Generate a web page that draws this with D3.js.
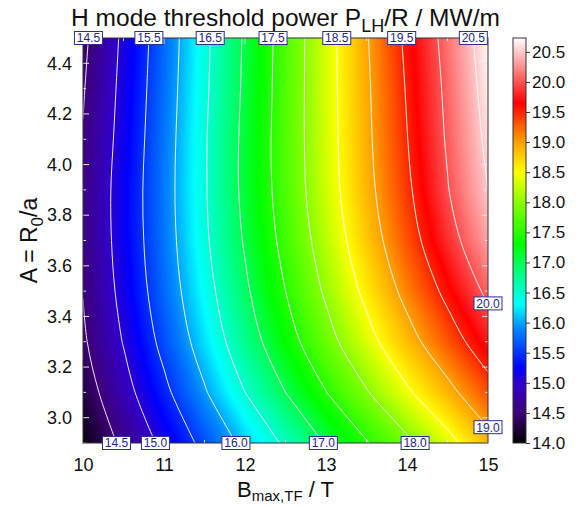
<!DOCTYPE html>
<html>
<head>
<meta charset="utf-8">
<script src="https://cdn.jsdelivr.net/npm/d3@7"></script>
<style>
  body { margin: 0; background: #fff; }
  text { font-family: "Liberation Sans", Arial, sans-serif; }
</style>
</head>
<body>
<script>
// grid: columns = B_max,TF (T), rows = A (bottom to top)
var bValues = [10, 10.5, 11, 11.5, 12, 12.5, 13, 13.5, 14, 14.5, 15];
var aValues = [2.9, 3.1, 3.3, 3.5, 3.7, 3.9, 4.1, 4.3, 4.5];
var plhRows = [
  [14.07, 14.59, 15.11, 15.62, 16.11, 16.57, 17.03, 17.47, 17.91, 18.36, 18.85],
  [14.28, 14.84, 15.40, 15.96, 16.50, 17.00, 17.49, 17.97, 18.44, 18.88, 19.33],
  [14.44, 15.02, 15.62, 16.20, 16.77, 17.31, 17.84, 18.35, 18.84, 19.30, 19.75],
  [14.51, 15.13, 15.75, 16.34, 16.93, 17.50, 18.06, 18.60, 19.12, 19.60, 20.08],
  [14.55, 15.19, 15.81, 16.43, 17.04, 17.63, 18.21, 18.78, 19.32, 19.84, 20.34],
  [14.56, 15.20, 15.83, 16.46, 17.10, 17.70, 18.30, 18.88, 19.43, 19.98, 20.50],
  [14.52, 15.16, 15.81, 16.46, 17.10, 17.72, 18.32, 18.92, 19.49, 20.04, 20.58],
  [14.47, 15.12, 15.78, 16.43, 17.07, 17.71, 18.33, 18.94, 19.53, 20.08, 20.65],
  [14.41, 15.08, 15.75, 16.41, 17.05, 17.70, 18.33, 18.97, 19.58, 20.13, 20.71]
];
var contourLevels = [14.5, 15, 15.5, 16, 16.5, 17, 17.5, 18, 18.5, 19, 19.5, 20, 20.5];
var topLabels = [14.5, 15.5, 16.5, 17.5, 18.5, 19.5, 20.5];
var bottomLabels = [14.5, 15, 16, 17, 18];
var rightLabels = [19, 20];
var xTicks = [10, 11, 12, 13, 14, 15];
var xMinor = [10.5, 11.5, 12.5, 13.5, 14.5];
var yTicks = [3.0, 3.2, 3.4, 3.6, 3.8, 4.0, 4.2, 4.4];
var yMinor = [2.9, 3.1, 3.3, 3.5, 3.7, 3.9, 4.1, 4.3, 4.5];
var cbTicks = [14.0, 14.5, 15.0, 15.5, 16.0, 16.5, 17.0, 17.5, 18.0, 18.5, 19.0, 19.5, 20.0, 20.5];
var cbRange = [14.0, 20.73];

// colour table (value -> colour)
var colorStops = [14.0, 14.5, 14.95, 15.25, 15.9, 16.3, 16.8, 17.3, 18.0, 18.5, 19.0, 19.65, 20.73];
var colorList = ["#000000", "#3e0078", "#3300c8", "#0000ff", "#0088ff", "#00ffff", "#00ff88", "#00ff00",
                 "#88ff00", "#ffff00", "#ffa000", "#ff0000", "#ffffff"];

(function() {
var W = 577, H = 507;
var pL = 83, pR = 488, pT = 38, pB = 443;

var svg = d3.select("body").append("svg").attr("width", W).attr("height", H);

var x = d3.scaleLinear().domain([10, 15]).range([pL, pR]);
var y = d3.scaleLinear().domain([2.9, 4.5]).range([pB, pT]);
var color = d3.scaleLinear().domain(colorStops).range(colorList).clamp(true);

var nx = bValues.length, ny = aValues.length;
var values = [];
plhRows.forEach(function(r) { r.forEach(function(v) { values.push(v); }); });

// grid coords (sample i sits at i + 0.5) -> pixels
var gx = d3.scaleLinear().domain([0.5, nx - 0.5]).range([x(bValues[0]), x(bValues[nx - 1])]);
var gy = d3.scaleLinear().domain([0.5, ny - 0.5]).range([y(aValues[0]), y(aValues[ny - 1])]);

function ringPath(ring) {
  return "M" + ring.map(function(p) { return gx(p[0]).toFixed(2) + "," + gy(p[1]).toFixed(2); }).join("L") + "Z";
}
function multiPath(c) {
  return c.coordinates.map(function(poly) { return poly.map(ringPath).join(""); }).join("");
}

svg.append("clipPath").attr("id", "plotclip")
  .append("rect").attr("x", pL).attr("y", pT).attr("width", pR - pL).attr("height", pB - pT);

var plot = svg.append("g").attr("clip-path", "url(#plotclip)");

// filled field
var step = 0.02;
var fillThresholds = d3.range(13.9, 20.8, step);
var contours = d3.contours().size([nx, ny]).smooth(true);
plot.append("g")
  .selectAll("path")
  .data(contours.thresholds(fillThresholds)(values))
  .join("path")
  .attr("d", multiPath)
  .attr("fill-rule", "evenodd")
  .attr("fill", function(d) { return color(d.value + step / 2); })
  .attr("stroke", function(d) { return color(d.value + step / 2); })
  .attr("stroke-width", 0.3);

// contour lines (only the parts inside the grid)
function insideGrid(p) { return p[0] > 0 && p[0] < nx && p[1] > 0 && p[1] < ny; }
function runsOf(ring) {
  var pts = ring.slice(0, -1);
  var start = pts.findIndex(function(p) { return !insideGrid(p); });
  if (start < 0) return [pts.concat([pts[0]])];
  var runs = [], cur = [];
  for (var k = 1; k <= pts.length; k++) {
    var p = pts[(start + k) % pts.length];
    if (insideGrid(p)) cur.push(p);
    else { if (cur.length > 1) runs.push(cur); cur = []; }
  }
  return runs;
}
var lineGen = d3.line()
  .x(function(p) { return gx(p[0]); })
  .y(function(p) { return gy(p[1]); })
  .curve(d3.curveCatmullRom.alpha(0.5));

var lineRuns = [];
contours.thresholds(contourLevels)(values).forEach(function(c) {
  c.coordinates.forEach(function(poly) {
    poly.forEach(function(ring) {
      runsOf(ring).forEach(function(r) { lineRuns.push(r); });
    });
  });
});
plot.append("g")
  .selectAll("path")
  .data(lineRuns)
  .join("path")
  .attr("d", lineGen)
  .attr("fill", "none")
  .attr("stroke", "#ffffff")
  .attr("stroke-opacity", 0.9)
  .attr("stroke-width", 1);

// ticks (inside, on all four sides)
var ticks = svg.append("g").attr("stroke", "#e8e8e8").attr("stroke-width", 1);
function hTicks(vals, len) {
  vals.forEach(function(v) {
    ticks.append("line").attr("x1", x(v)).attr("x2", x(v)).attr("y1", pB).attr("y2", pB - len);
    ticks.append("line").attr("x1", x(v)).attr("x2", x(v)).attr("y1", pT).attr("y2", pT + len);
  });
}
function vTicks(vals, len) {
  vals.forEach(function(v) {
    ticks.append("line").attr("y1", y(v)).attr("y2", y(v)).attr("x1", pL).attr("x2", pL + len);
    ticks.append("line").attr("y1", y(v)).attr("y2", y(v)).attr("x1", pR).attr("x2", pR - len);
  });
}
hTicks(xTicks.slice(1, -1), 6);
hTicks(xMinor, 3);
vTicks(yTicks, 6);
vTicks(yMinor, 3);

// frame
svg.append("rect")
  .attr("x", pL).attr("y", pT).attr("width", pR - pL).attr("height", pB - pT)
  .attr("fill", "none").attr("stroke", "#333").attr("stroke-width", 1);

// axis tick labels
var xAxis = svg.append("g").attr("transform", "translate(0," + pB + ")")
  .call(d3.axisBottom(x).tickValues(xTicks).tickSize(0).tickPadding(15).tickFormat(d3.format("d")));
var yAxis = svg.append("g").attr("transform", "translate(" + pL + ",0)")
  .call(d3.axisLeft(y).tickValues(yTicks).tickSize(0).tickPadding(11).tickFormat(d3.format(".1f")));
[xAxis, yAxis].forEach(function(g) {
  g.select(".domain").remove();
  g.selectAll("text").attr("font-size", 18).attr("fill", "#111")
    .style("font-family", "'Liberation Sans', Arial, sans-serif");
});

// contour labels at the plot edges
function rowCrossing(row, level) {
  for (var i = 0; i < row.length - 1; i++) {
    if ((row[i] - level) * (row[i + 1] - level) <= 0 && row[i] !== row[i + 1]) {
      return bValues[i] + (level - row[i]) / (row[i + 1] - row[i]) * (bValues[i + 1] - bValues[i]);
    }
  }
  return null;
}
function colCrossing(col, level) {
  var c = plhRows.map(function(r) { return r[col]; });
  for (var j = 0; j < c.length - 1; j++) {
    if ((c[j] - level) * (c[j + 1] - level) <= 0 && c[j] !== c[j + 1]) {
      return aValues[j] + (level - c[j]) / (c[j + 1] - c[j]) * (aValues[j + 1] - aValues[j]);
    }
  }
  return null;
}
var labelData = [];
topLabels.forEach(function(l) {
  var b = rowCrossing(plhRows[ny - 1], l);
  if (b !== null) labelData.push({ v: l, px: x(b), py: pT });
});
bottomLabels.forEach(function(l) {
  var b = rowCrossing(plhRows[0], l);
  if (b !== null) labelData.push({ v: l, px: x(b), py: pB });
});
rightLabels.forEach(function(l) {
  var a = colCrossing(nx - 1, l);
  if (a !== null) labelData.push({ v: l, px: pR, py: y(a) });
});
var lab = svg.append("g").selectAll("g").data(labelData).join("g")
  .attr("transform", function(d) { return "translate(" + d.px + "," + d.py + ")"; });
lab.append("rect")
  .attr("x", -14).attr("y", -6.5).attr("width", 28).attr("height", 13)
  .attr("fill", "#fff").attr("stroke", "#2d2d96").attr("stroke-width", 1);
lab.append("text")
  .attr("text-anchor", "middle").attr("dy", "0.37em")
  .attr("font-size", 12).attr("fill", "#23238c")
  .text(function(d) { return d3.format(".1f")(d.v); });

// colour bar
var cbX = 513, cbW = 13;
var cb = d3.scaleLinear().domain(cbRange).range([pB, pT]);
var grad = svg.append("defs").append("linearGradient").attr("id", "cbgrad")
  .attr("x1", 0).attr("y1", 1).attr("x2", 0).attr("y2", 0);
grad.selectAll("stop")
  .data(d3.range(0, 1.0001, 0.01))
  .join("stop")
  .attr("offset", function(t) { return t; })
  .attr("stop-color", function(t) { return color(cbRange[0] + t * (cbRange[1] - cbRange[0])); });
svg.append("rect")
  .attr("x", cbX).attr("y", pT).attr("width", cbW).attr("height", pB - pT)
  .attr("fill", "url(#cbgrad)").attr("stroke", "#333").attr("stroke-width", 1);
var cbAxis = svg.append("g").attr("transform", "translate(" + (cbX + cbW) + ",0)")
  .call(d3.axisRight(cb).tickValues(cbTicks).tickSize(4).tickPadding(2).tickFormat(d3.format(".1f")));
cbAxis.select(".domain").remove();
cbAxis.selectAll("line").attr("stroke", "#333");
cbAxis.selectAll("text").attr("font-size", 17).attr("fill", "#111")
  .style("font-family", "'Liberation Sans', Arial, sans-serif");

// title and axis titles
var title = svg.append("text").attr("x", (pL + pR) / 2).attr("y", 26)
  .attr("text-anchor", "middle").attr("font-size", 24.5).attr("fill", "#111");
title.append("tspan").text("H mode threshold power P");
title.append("tspan").attr("font-size", 18).attr("dy", 6).text("LH");
title.append("tspan").attr("dy", -6).text("/R / MW/m");

var xl = svg.append("text").attr("x", (pL + pR) / 2).attr("y", 497)
  .attr("text-anchor", "middle").attr("font-size", 22).attr("fill", "#111");
xl.append("tspan").text("B");
xl.append("tspan").attr("font-size", 15).attr("dy", 4).text("max,TF");
xl.append("tspan").attr("dy", -4).text(" / T");

var yl = svg.append("text").attr("transform", "translate(37," + ((pT + pB) / 2) + ") rotate(-90)")
  .attr("text-anchor", "middle").attr("font-size", 23).attr("fill", "#111");
yl.append("tspan").text("A = R");
yl.append("tspan").attr("font-size", 17).attr("dy", 6).text("0");
yl.append("tspan").attr("dy", -6).text("/a");
})();
</script>
</body>
</html>
